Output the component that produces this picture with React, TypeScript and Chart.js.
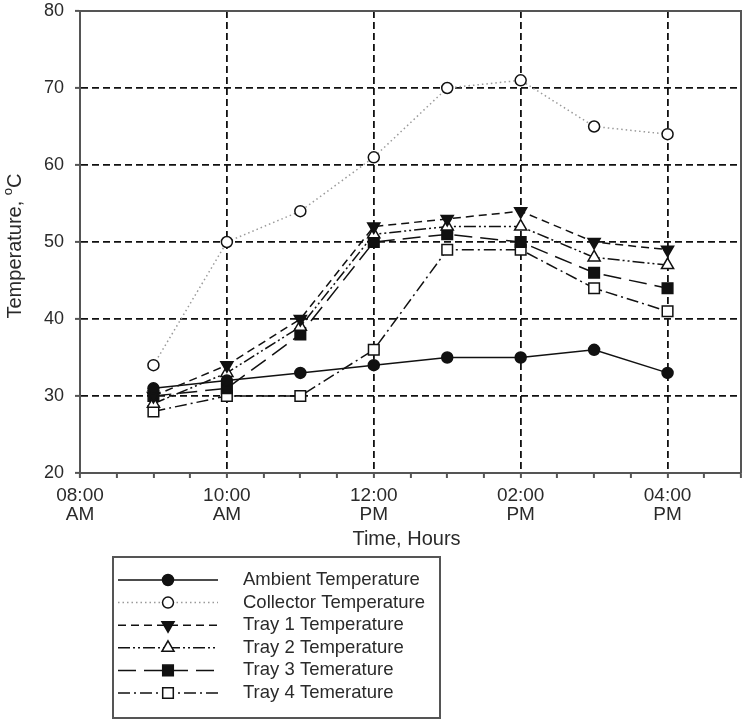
import React, { useEffect, useRef } from 'react';
import { Chart, registerables } from 'chart.js';
import { drawPoint } from 'chart.js/helpers';

Chart.register(...registerables);

// ---- data ----
const hours = [9, 10, 11, 12, 13, 14, 15, 16];
const ambient = [31, 32, 33, 34, 35, 35, 36, 33];
const collector = [34, 50, 54, 61, 70, 71, 65, 64];
const tray1 = [30, 34, 40, 52, 53, 54, 50, 49];
const tray2 = [29, 33, 39, 51, 52, 52, 48, 47];
const tray3 = [30, 31, 38, 50, 51, 50, 46, 44];
const tray4 = [28, 30, 30, 36, 49, 49, 44, 41];
const seriesNames = [
  'Ambient Temperature',
  'Collector Temperature',
  'Tray 1 Temperature',
  'Tray 2 Temperature',
  'Tray 3 Temerature',
  'Tray 4 Temerature',
];
const xTickHours = [8, 10, 12, 14, 16];
const xTickLabels = [
  ['08:00', 'AM'],
  ['10:00', 'AM'],
  ['12:00', 'PM'],
  ['02:00', 'PM'],
  ['04:00', 'PM'],
];
const xTitle = 'Time, Hours';
const yTitle = 'Temperature, ';
const yUnit = 'C';

const FONT = "'Liberation Sans', Arial, sans-serif";
const TEXT = '#2a2a2a';
const AXIS = '#555';

const toPts = (vals: number[]) => hours.map((h, i) => ({ x: h, y: vals[i] }));

const styles = [
  { color: '#111', dash: [], style: 'circle', rot: 0, r: 5.5, fill: '#111' },
  { color: '#9a9a9a', dash: [1.5, 3], style: 'circle', rot: 0, r: 5.5, fill: '#fff' },
  { color: '#111', dash: [8, 5], style: 'triangle', rot: 180, r: 7, fill: '#111' },
  { color: '#111', dash: [12, 3, 2, 3, 2, 3], style: 'triangle', rot: 0, r: 7, fill: '#fff' },
  { color: '#111', dash: [18, 8], style: 'rect', rot: 0, r: 7.5, fill: '#111' },
  { color: '#111', dash: [12, 4, 2, 4], style: 'rect', rot: 0, r: 7.5, fill: '#fff' },
];

const seriesValues = [ambient, collector, tray1, tray2, tray3, tray4];

const decor = {
  id: 'decor',
  afterDraw(chart: any) {
    const { ctx, chartArea: a } = chart;
    ctx.save();
    // frame top & right
    ctx.strokeStyle = AXIS;
    ctx.lineWidth = 2;
    ctx.setLineDash([]);
    ctx.beginPath();
    ctx.moveTo(a.left, a.top);
    ctx.lineTo(a.right, a.top);
    ctx.lineTo(a.right, a.bottom);
    ctx.stroke();

    // x title
    ctx.fillStyle = TEXT;
    ctx.font = `20px ${FONT}`;
    ctx.textAlign = 'center';
    ctx.textBaseline = 'middle';
    ctx.fillText(xTitle, (a.left + a.right) / 2 - 4, a.bottom + 66);

    // y title with superscript o
    ctx.save();
    ctx.translate(15, (a.top + a.bottom) / 2 + 4);
    ctx.rotate(-Math.PI / 2);
    ctx.font = `20px ${FONT}`;
    const w1 = ctx.measureText(yTitle).width;
    ctx.font = `13px ${FONT}`;
    const w2 = ctx.measureText('o').width;
    ctx.font = `20px ${FONT}`;
    const w3 = ctx.measureText(yUnit).width;
    let x0 = -(w1 + w2 + w3) / 2;
    ctx.textAlign = 'left';
    ctx.fillText(yTitle, x0, 0);
    x0 += w1;
    ctx.font = `13px ${FONT}`;
    ctx.fillText('o', x0, -7);
    x0 += w2;
    ctx.font = `20px ${FONT}`;
    ctx.fillText(yUnit, x0, 0);
    ctx.restore();

    // legend
    const bx = 113, by = 557, bw = 327, bh = 161;
    ctx.strokeStyle = AXIS;
    ctx.lineWidth = 2;
    ctx.strokeRect(bx, by, bw, bh);
    const rowY0 = 580, step = 22.6;
    chart.data.datasets.forEach((ds: any, i: number) => {
      const y = rowY0 + i * step;
      const s = styles[i];
      ctx.save();
      ctx.strokeStyle = s.color;
      ctx.lineWidth = 1.5;
      ctx.setLineDash(s.dash);
      ctx.beginPath();
      ctx.moveTo(118, y);
      ctx.lineTo(218, y);
      ctx.stroke();
      ctx.setLineDash([]);
      ctx.fillStyle = s.fill;
      ctx.strokeStyle = '#111';
      ctx.lineWidth = 1.5;
      drawPoint(ctx, { pointStyle: s.style, rotation: s.rot, radius: s.r, borderWidth: 1.5 } as any, 168, y);
      ctx.restore();
      ctx.fillStyle = TEXT;
      ctx.font = `18.5px ${FONT}`;
      ctx.textAlign = 'left';
      ctx.textBaseline = 'middle';
      ctx.fillText(ds.label, 243, y);
    });
    ctx.restore();
  },
};

export default function App() {
  const ref = useRef<HTMLCanvasElement>(null);
  useEffect(() => {
    if (!ref.current) return;
    const chart = new Chart(ref.current, {
      type: 'line',
      data: {
        datasets: seriesValues.map((vals, i) => ({
          label: seriesNames[i],
          data: toPts(vals),
          borderColor: styles[i].color,
          borderWidth: 1.5,
          borderDash: styles[i].dash,
          pointStyle: styles[i].style,
          pointRotation: styles[i].rot,
          pointRadius: styles[i].r,
          pointBackgroundColor: styles[i].fill,
          pointBorderColor: '#111',
          pointBorderWidth: 1.5,
          tension: 0,
          fill: false,
        })),
      },
      options: {
        responsive: false,
        animation: false,
        devicePixelRatio: 1,
        layout: { padding: { left: 0, top: 11, right: 9, bottom: 0 } },
        plugins: { legend: { display: false }, tooltip: { enabled: false } },
        scales: {
          x: {
            type: 'linear',
            min: 8,
            max: 17,
            afterFit: (s: any) => {
              s.height = 250;
              s.paddingLeft = 0;
              s.paddingRight = 0;
            },
            afterBuildTicks: (s: any) => {
              const t = [];
              for (let v = 8; v <= 17; v += 0.5) t.push({ value: v });
              s.ticks = t;
            },
            ticks: {
              autoSkip: false,
              maxRotation: 0,
              minRotation: 0,
              padding: 8,
              color: TEXT,
              font: { family: FONT, size: 19, lineHeight: 1.0 },
              callback: (v: any) => {
                const idx = xTickHours.indexOf(Number(v));
                return idx >= 0 ? xTickLabels[idx] : '';
              },
            },
            grid: {
              drawTicks: true,
              tickLength: 5,
              tickColor: AXIS,
              tickWidth: 2,
              lineWidth: 1.8,
              color: (c: any) => {
                const v = c.tick && c.tick.value;
                return [10, 12, 14, 16].includes(v) ? '#111' : 'rgba(0,0,0,0)';
              },
            },
            border: { display: true, color: AXIS, width: 2, dash: [7, 4] },
          },
          y: {
            type: 'linear',
            min: 20,
            max: 80,
            afterFit: (s: any) => {
              s.width = 80;
              s.paddingTop = 0;
              s.paddingBottom = 0;
            },
            ticks: {
              stepSize: 10,
              padding: 11,
              color: TEXT,
              font: { family: FONT, size: 18 },
            },
            grid: {
              drawTicks: true,
              tickLength: 5,
              tickColor: AXIS,
              tickWidth: 2,
              lineWidth: 1.8,
              color: (c: any) => {
                const v = c.tick && c.tick.value;
                return v > 20 && v < 80 ? '#111' : 'rgba(0,0,0,0)';
              },
            },
            border: { display: true, color: AXIS, width: 2, dash: [7, 4] },
          },
        },
      },
      plugins: [decor],
    } as any);
    return () => chart.destroy();
  }, []);
  return (
    <div style={{ position: 'fixed', left: 0, top: 0, width: 750, height: 723, background: '#fff' }}>
      <canvas ref={ref} width={750} height={723} style={{ display: 'block' }} />
    </div>
  );
}
